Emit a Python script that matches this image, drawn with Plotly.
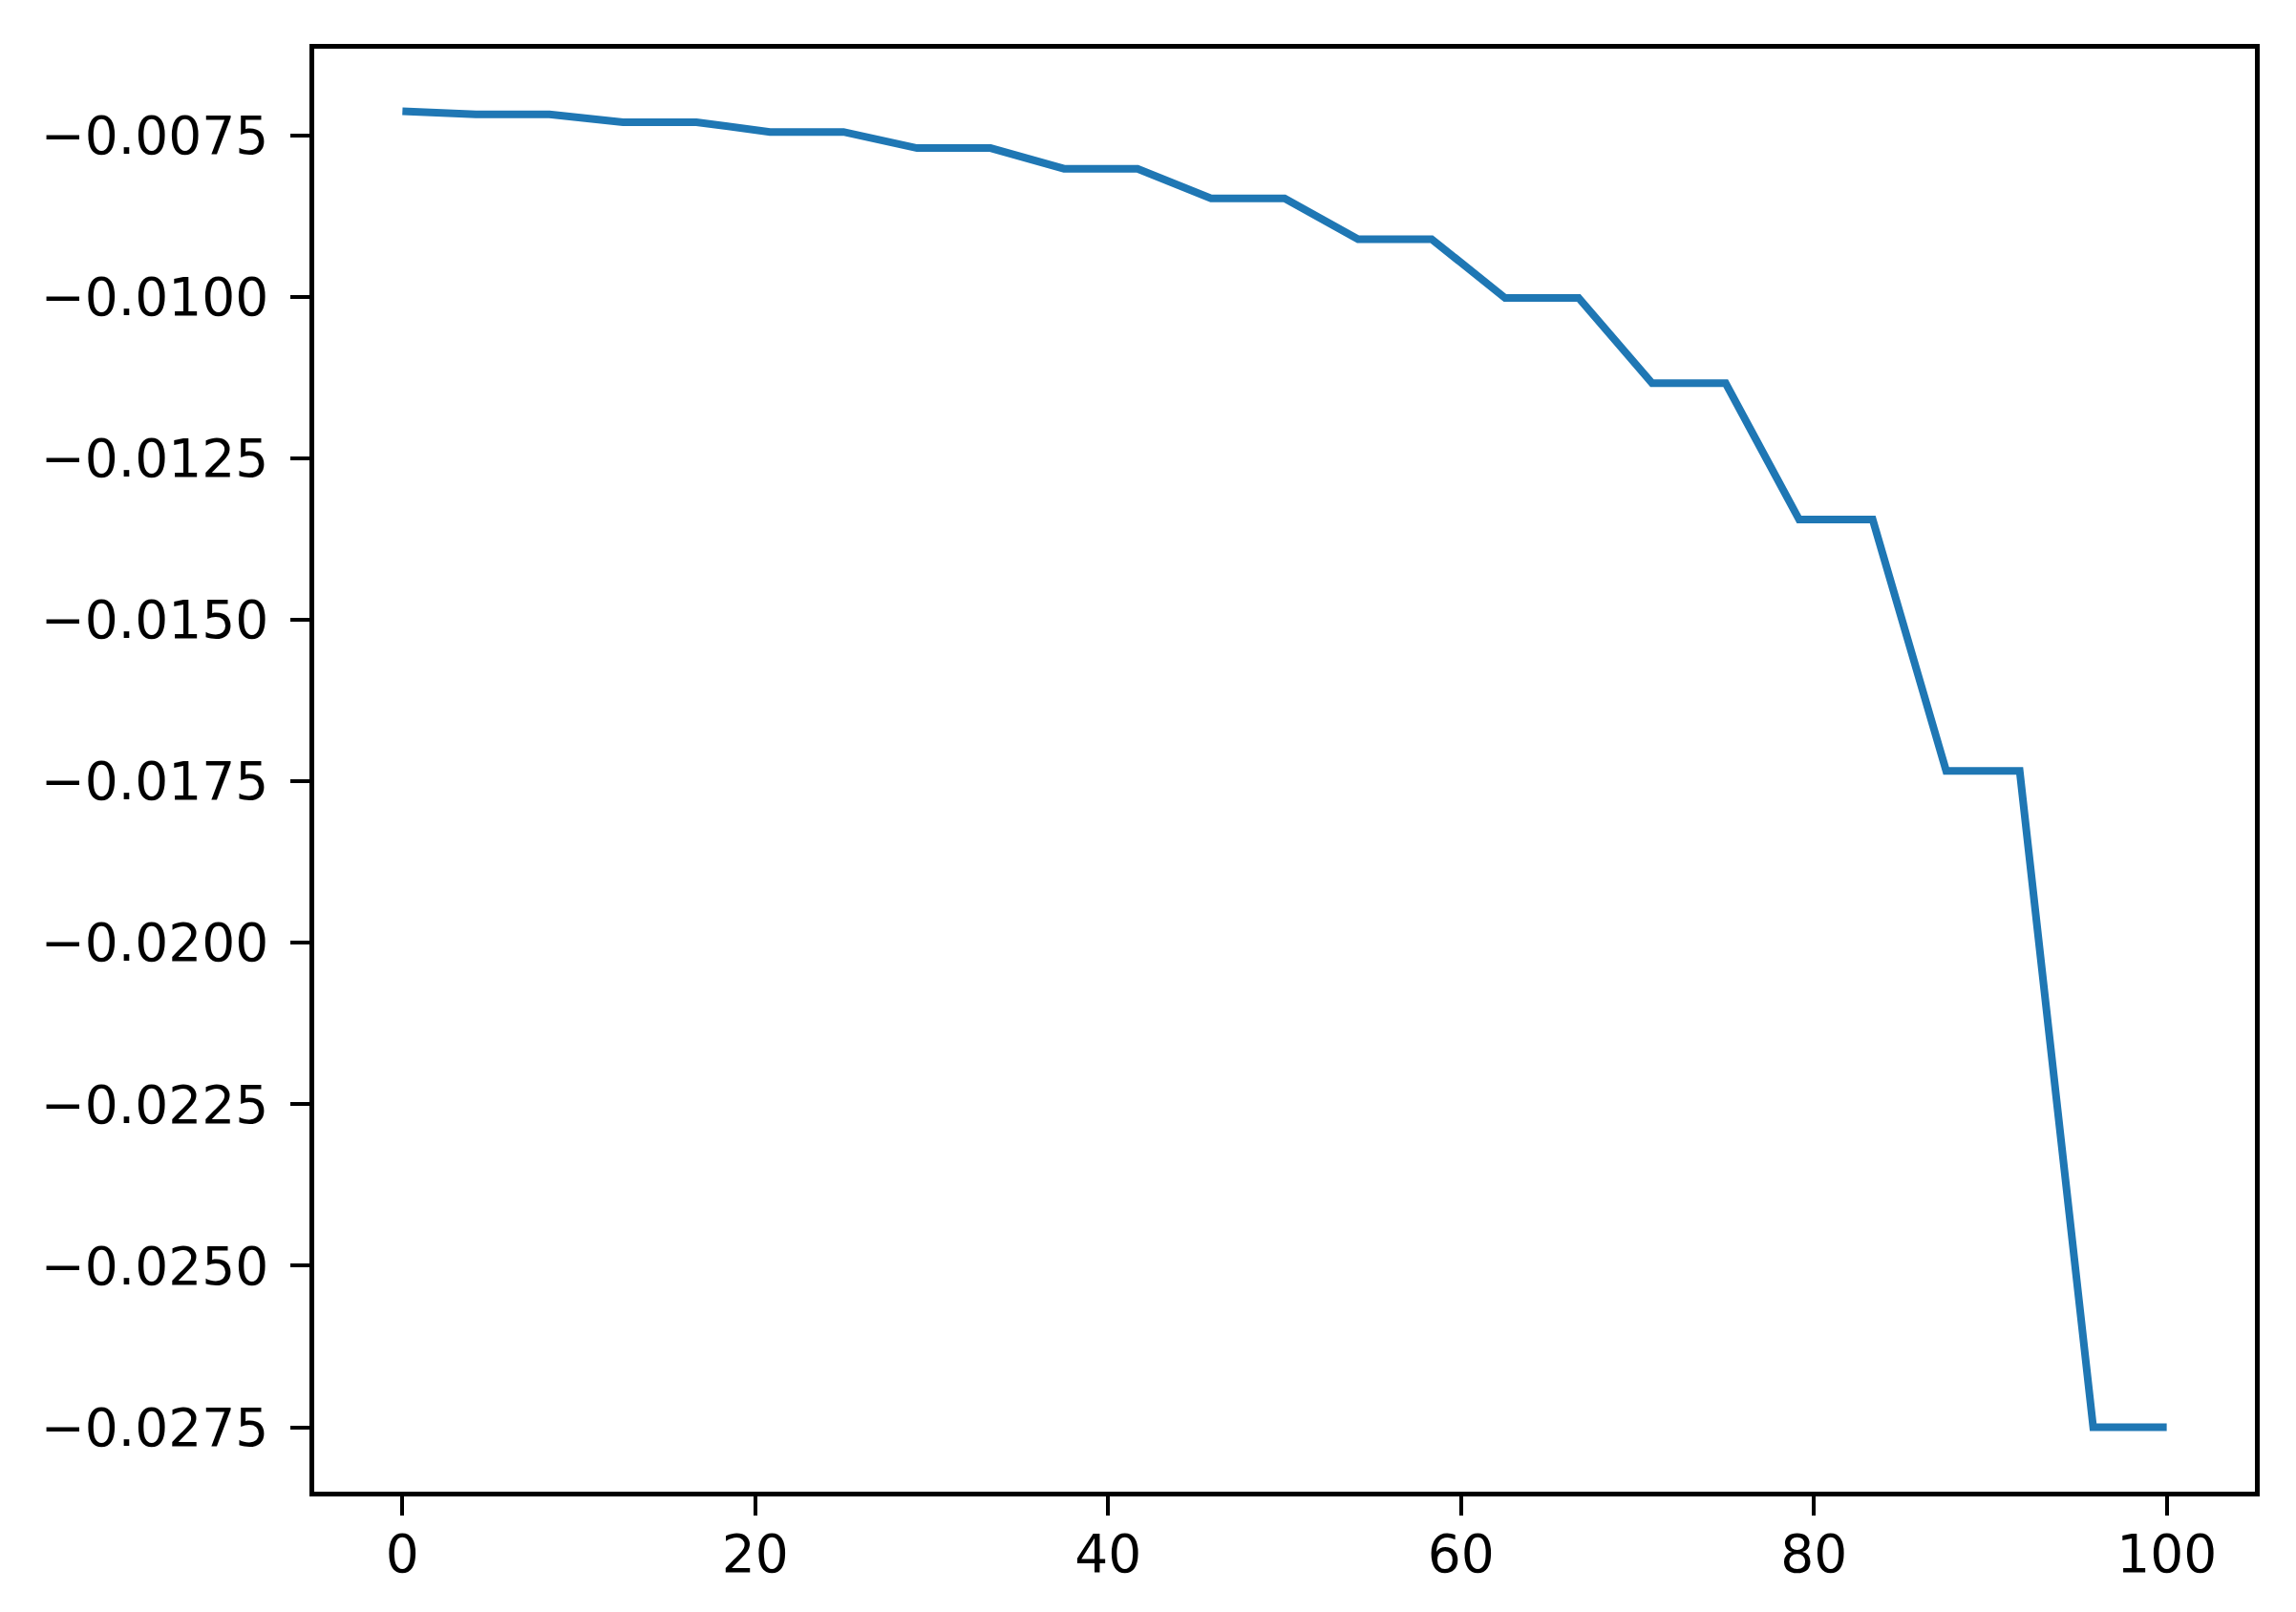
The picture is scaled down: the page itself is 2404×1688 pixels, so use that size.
import plotly.graph_objects as go

# ───────────────────────────────────────────────────────────────
# DATA
# ───────────────────────────────────────────────────────────────

x_vals = [0, 4.1667, 8.3333, 12.5, 16.6667, 20.8333, 25, 29.1667, 33.3333,
          37.5, 41.6667, 45.8333, 50, 54.1667, 58.3333, 62.5, 66.6667,
          70.8333, 75, 79.1667, 83.3333, 87.5, 91.6667, 95.8333, 100]

y_vals = [-0.00713,
          -0.00718, -0.00718,
          -0.00730, -0.00730,
          -0.00745, -0.00745,
          -0.00770, -0.00770,
          -0.00802, -0.00802,
          -0.00848, -0.00848,
          -0.00911, -0.00911,
          -0.01002, -0.01002,
          -0.01134, -0.01134,
          -0.01345, -0.01345,
          -0.01734, -0.01734,
          -0.02750, -0.02750]

x_ticks = [0, 20, 40, 60, 80, 100]
y_ticks = [-0.0075, -0.0100, -0.0125, -0.0150, -0.0175, -0.0200, -0.0225, -0.0250, -0.0275]

# ───────────────────────────────────────────────────────────────
# FIGURE
# ───────────────────────────────────────────────────────────────

fig = go.Figure()
fig.add_trace(go.Scatter(
    x=x_vals,
    y=y_vals,
    mode='lines',
    line=dict(color='#1f77b4', width=8),
    showlegend=False
))

axis_style = dict(
    showline=True, linewidth=4.5, linecolor='black', mirror=True,
    ticks='outside', ticklen=20, tickwidth=4, tickcolor='black',
    showgrid=False, zeroline=False,
    tickfont=dict(family='DejaVu Sans', size=55, color='black')
)

fig.update_xaxes(range=[-5, 105], tickvals=x_ticks, ticklabelstandoff=-7, **axis_style)
fig.update_yaxes(range=[-0.028496, -0.006162], tickvals=y_ticks,
                 ticktext=[f"\u2212{abs(v):.4f}" for v in y_ticks],
                 ticklabelstandoff=12, **axis_style)

fig.update_layout(
    width=2404, height=1688,
    margin=dict(l=321, r=51, t=43, b=134),
    plot_bgcolor='white', paper_bgcolor='white'
)

fig.write_html("out.html")
